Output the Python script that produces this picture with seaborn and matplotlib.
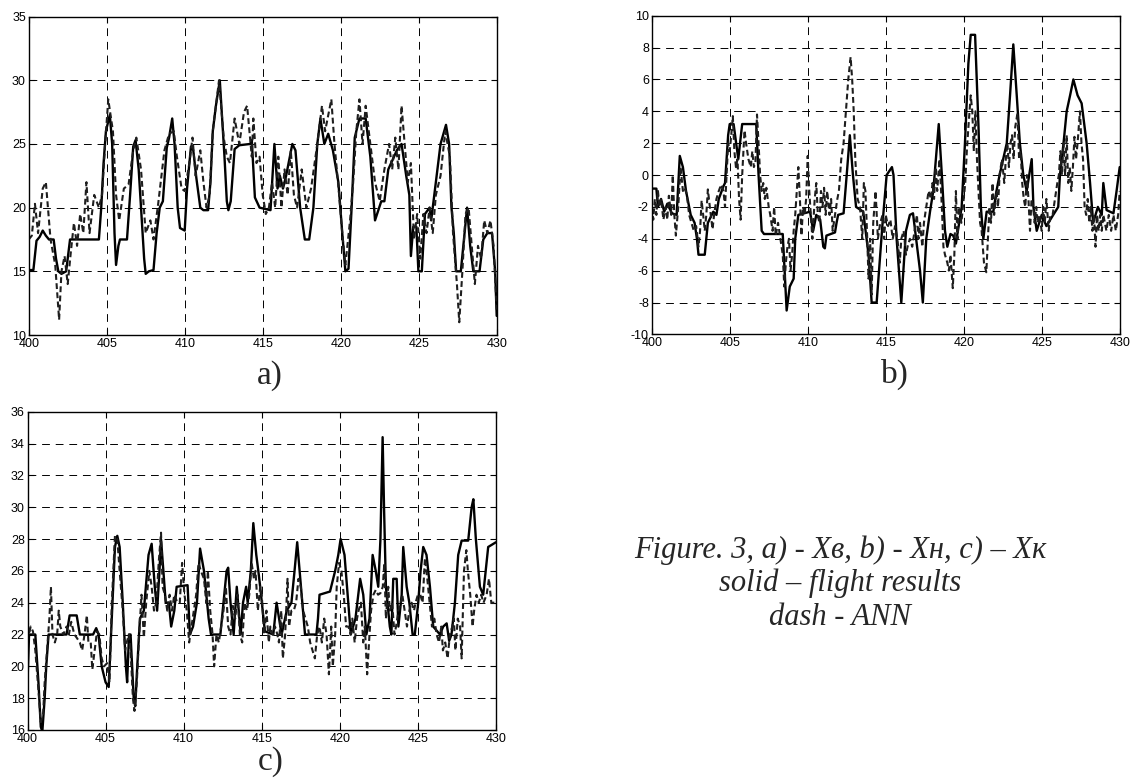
import numpy as np
import pandas as pd
import matplotlib
matplotlib.use('Agg')
import matplotlib.pyplot as plt
import seaborn as sns

# --- data (time axis 400..430) ---
# panel a) - Xв
a_solid_x = [400.0, 400.3, 400.5, 400.7, 400.9, 401.1, 401.3, 401.6, 401.75, 401.9, 402.1, 402.4, 402.55, 402.65,
             404.5, 404.65, 404.8, 404.95, 405.2, 405.35, 405.5, 405.6, 405.75, 405.85, 406.3, 406.5, 406.7, 406.85,
             407.05, 407.2, 407.4, 407.5, 407.7, 408.0, 408.2, 408.4, 408.6, 408.85, 409.0, 409.2, 409.35, 409.55,
             409.7, 410.0, 410.15, 410.4, 410.55, 410.75, 411.0, 411.2, 411.5, 411.65, 411.8, 412.0, 412.25, 412.4,
             412.55, 412.7, 412.8, 412.95, 413.2, 413.5, 414.2, 414.3, 414.5, 414.8, 415.5, 415.75, 415.95, 416.1,
             416.3, 416.5, 416.9, 417.1, 417.4, 417.7, 417.98, 418.25, 418.5, 418.7, 418.95, 419.2, 419.5, 419.85,
             420.1, 420.3, 420.5, 420.7, 420.9, 421.2, 421.6, 421.9, 422.2, 422.6, 422.8, 423.05, 423.6, 423.9,
             424.2, 424.4, 424.5, 424.65, 424.85, 424.98, 425.2, 425.4, 425.7, 425.8, 425.9, 426.1, 426.4, 426.75,
             426.95, 427.1, 427.25, 427.4, 427.7, 428.1, 428.3, 428.5, 428.9, 429.14, 429.4, 429.7, 429.9, 430.0]
a_solid_y = [15.1, 15.1, 17.4, 17.7, 18.2, 17.8, 17.5, 17.5, 16.0, 15.0, 14.8, 15.0, 16.5, 17.5,
             17.5, 20.0, 23.5, 26.0, 27.3, 25.0, 18.0, 15.5, 17.0, 17.5, 17.5, 21.0, 24.8, 25.3,
             23.0, 20.0, 16.0, 14.8, 15.0, 15.1, 18.0, 20.0, 20.5, 24.7, 25.5, 27.0, 25.0, 20.0,
             18.4, 18.2, 21.5, 24.8, 24.5, 22.3, 20.0, 19.8, 19.8, 22.0, 26.0, 28.0, 30.0, 27.0,
             24.0, 20.5, 19.8, 20.5, 24.6, 24.9, 25.0, 25.3, 20.8, 20.0, 19.8, 25.0, 21.5, 22.5,
             21.5, 22.5, 25.0, 24.5, 20.0, 17.5, 17.5, 20.0, 25.0, 27.0, 25.0, 25.8, 24.5, 22.0,
             18.0, 15.0, 15.2, 20.0, 25.5, 27.0, 27.0, 24.0, 19.0, 20.5, 20.5, 23.0, 24.5, 25.0,
             22.5, 21.0, 16.2, 18.5, 18.5, 15.0, 15.0, 19.5, 20.0, 19.0, 20.0, 22.0, 25.0, 26.5,
             25.0, 20.0, 18.0, 15.0, 15.0, 20.0, 17.0, 15.0, 15.0, 17.5, 18.0, 18.0, 15.0, 11.5]
a_dash_x = [400.0, 400.2, 400.4, 400.6, 400.9, 401.1, 401.4, 401.7, 401.95, 402.1, 402.3, 402.5, 402.7, 402.9,
            403.1, 403.3, 403.5, 403.7, 403.9, 404.2, 404.5, 404.7, 404.9, 405.1, 405.4, 405.6, 405.8, 406.1,
            406.4, 406.7, 406.9, 407.2, 407.5, 407.8, 408.0, 408.3, 408.7, 409.0, 409.3, 409.5, 409.8, 410.0,
            410.3, 410.5, 410.7, 411.0, 411.2, 411.4, 411.6, 411.8, 412.1, 412.2, 412.5, 412.7, 412.9, 413.2,
            413.5, 413.8, 414.0, 414.3, 414.4, 414.6, 414.8, 415.0, 415.2, 415.4, 415.6, 415.8, 416.0, 416.2,
            416.4, 416.6, 416.8, 417.0, 417.2, 417.5, 417.8, 418.1, 418.5, 418.8, 419.0, 419.4, 419.6, 419.9,
            420.1, 420.3, 420.6, 420.8, 421.0, 421.2, 421.4, 421.6, 421.9, 422.2, 422.5, 422.8, 423.1, 423.3,
            423.5, 423.7, 423.9, 424.1, 424.3, 424.5, 424.7, 424.9, 425.1, 425.3, 425.5, 425.7, 425.9, 426.1,
            426.4, 426.7, 427.0, 427.2, 427.45, 427.6, 427.8, 428.0, 428.2, 428.4, 428.6, 428.8, 429.0, 429.2,
            429.4, 429.6, 429.8, 430.0]
a_dash_y = [17.5, 17.8, 20.3, 18.0, 21.5, 22.0, 17.5, 15.5, 11.2, 15.0, 16.2, 14.0, 16.5, 18.8,
            17.0, 19.5, 18.0, 22.0, 18.0, 21.0, 20.0, 21.0, 25.0, 28.5, 26.0, 21.0, 19.0, 21.5,
            21.8, 24.5, 25.5, 23.0, 18.0, 19.0, 17.5, 20.3, 24.5, 25.8, 26.0, 24.0, 21.5, 21.3,
            23.5, 25.5, 22.5, 24.5, 22.0, 20.0, 21.0, 26.0, 29.0, 30.0, 25.5, 24.0, 23.5, 27.0,
            25.0, 27.5, 28.0, 24.0, 27.0, 23.5, 24.0, 21.0, 19.5, 20.0, 22.0, 20.0, 24.0, 20.0,
            23.0, 21.0, 24.5, 21.0, 20.0, 23.0, 20.0, 21.5, 25.0, 28.0, 26.0, 28.5, 25.0, 21.0,
            18.0, 15.5, 19.0, 22.0, 26.0, 28.5, 25.0, 28.0, 25.0, 22.0, 20.5, 23.0, 25.0, 23.0,
            25.5, 23.0, 28.0, 25.0, 22.0, 23.5, 17.5, 19.5, 16.0, 19.5, 18.0, 20.0, 18.0, 21.0,
            22.5, 26.0, 24.0, 18.0, 14.0, 11.0, 15.0, 19.5, 20.0, 17.0, 14.0, 17.0, 16.0, 19.0,
            18.0, 19.0, 17.0, 12.0]

# panel b) - Xн
b_solid_x = [400.0, 400.3, 400.4, 400.6, 400.8, 401.0, 401.3, 401.6, 401.8, 402.0, 402.2, 402.5, 402.75, 402.9,
             403.0, 403.4, 403.6, 403.95, 404.15, 404.3, 404.6, 404.7, 404.9, 405.0, 405.25, 405.55, 405.8, 406.7,
             406.85, 407.05, 407.2, 408.4, 408.65, 408.85, 409.1, 409.2, 409.4, 410.15, 410.35, 410.55, 410.8, 411.0,
             411.1, 411.2, 411.75, 411.85, 411.95, 412.3, 412.5, 412.7, 412.9, 413.1, 413.56, 413.9, 414.1, 414.42,
             414.8, 415.06, 415.4, 415.5, 415.7, 416.0, 416.3, 416.55, 416.75, 416.95, 417.2, 417.38, 417.6, 417.84,
             418.05, 418.4, 418.6, 418.8, 418.95, 419.15, 419.33, 419.5, 419.87, 420.08, 420.3, 420.45, 420.73, 420.95,
             421.1, 421.26, 421.47, 421.9, 422.1, 422.3, 422.76, 422.97, 423.18, 423.4, 423.6, 423.82, 424.04, 424.36,
             424.47, 424.68, 425.0, 425.3, 425.74, 426.06, 426.17, 426.4, 426.6, 426.82, 427.03, 427.3, 427.56, 427.88,
             428.1, 428.3, 428.6, 428.85, 428.95, 429.16, 429.6, 429.8, 430.0]
b_solid_y = [-0.85, -0.85, -2.0, -1.5, -2.3, -1.8, -2.4, -2.5, 1.2, 0.5, -1.0, -2.5, -3.0, -4.0,
             -5.0, -5.0, -3.0, -2.3, -2.5, -1.5, -0.7, -0.5, 2.5, 3.2, 3.2, 1.0, 3.2, 3.2,
             0.0, -3.5, -3.7, -3.7, -8.5, -7.0, -6.5, -4.0, -2.5, -2.3, -3.5, -2.5, -2.8, -4.5,
             -4.6, -3.8, -3.6, -3.0, -2.5, -2.4, 0.0, 2.5, 0.0, -2.0, -2.3, -5.0, -8.0, -8.0,
             -3.0, 0.0, 0.5, 0.0, -4.0, -8.0, -3.5, -2.5, -2.4, -4.0, -6.0, -8.0, -4.0, -2.3,
             -1.0, 3.2, 0.0, -3.5, -4.5, -3.7, -3.8, -4.3, -2.0, 2.0, 7.0, 8.8, 8.8, 3.0,
             -2.0, -4.0, -2.3, -2.3, -1.0, 0.0, 2.0, 5.0, 8.2, 5.0, 2.0, 0.0, -1.0, 1.0,
             -2.0, -3.5, -2.5, -3.2, -2.5, -2.0, 0.0, 2.0, 4.0, 5.0, 6.0, 5.0, 4.5, 2.0,
             -0.5, -3.0, -2.0, -2.5, -0.5, -2.2, -2.4, -1.0, 0.5]
b_dash_x = [400.0, 400.1, 400.2, 400.3, 400.4, 400.5, 400.6, 400.75, 400.9, 401.0, 401.1, 401.25, 401.35, 401.45,
            401.55, 401.7, 401.85, 402.0, 402.1, 402.25, 402.4, 402.55, 402.7, 402.85, 403.0, 403.1, 403.2, 403.3,
            403.4, 403.5, 403.6, 403.75, 403.9, 404.0, 404.15, 404.3, 404.45, 404.6, 404.7, 404.8, 404.9, 405.0,
            405.1, 405.2, 405.3, 405.4, 405.5, 405.6, 405.7, 405.8, 405.95, 406.05, 406.2, 406.35, 406.45, 406.55,
            406.65, 406.75, 406.85, 406.95, 407.05, 407.15, 407.25, 407.35, 407.5, 407.6, 407.75, 407.85, 407.95, 408.1,
            408.25, 408.4, 408.5, 408.6, 408.7, 408.8, 408.9, 409.0, 409.1, 409.2, 409.3, 409.4, 409.5, 409.6,
            409.7, 409.8, 409.9, 410.0, 410.1, 410.2, 410.3, 410.45, 410.55, 410.65, 410.75, 410.85, 410.95, 411.05,
            411.15, 411.25, 411.4, 411.5, 411.6, 411.75, 411.9, 412.0, 412.15, 412.3, 412.45, 412.6, 412.75, 412.85,
            412.95, 413.05, 413.2, 413.35, 413.5, 413.6, 413.7, 413.8, 413.9, 414.0, 414.1, 414.2, 414.35, 414.5,
            414.65, 414.8, 414.9, 415.0, 415.15, 415.3, 415.45, 415.6, 415.75, 415.9, 416.0, 416.15, 416.3, 416.4,
            416.55, 416.7, 416.85, 417.0, 417.1, 417.2, 417.35, 417.45, 417.6, 417.75, 417.9, 418.0, 418.1, 418.2,
            418.3, 418.45, 418.6, 418.7, 418.8, 418.95, 419.05, 419.15, 419.3, 419.4, 419.5, 419.6, 419.7, 419.85,
            419.95, 420.1, 420.2, 420.3, 420.45, 420.55, 420.65, 420.75, 420.85, 420.95, 421.05, 421.15, 421.3, 421.45,
            421.55, 421.65, 421.75, 421.85, 421.95, 422.1, 422.2, 422.3, 422.45, 422.6, 422.7, 422.8, 422.9, 423.0,
            423.1, 423.2, 423.3, 423.45, 423.55, 423.65, 423.75, 423.85, 423.95, 424.05, 424.15, 424.25, 424.35, 424.45,
            424.55, 424.65, 424.75, 424.85, 425.0, 425.1, 425.2, 425.3, 425.45, 425.55, 425.7, 425.85, 426.0, 426.1,
            426.2, 426.3, 426.4, 426.5, 426.6, 426.7, 426.8, 426.9, 427.0, 427.1, 427.2, 427.3, 427.45, 427.55,
            427.65, 427.75, 427.85, 427.95, 428.05, 428.15, 428.25, 428.35, 428.45, 428.55, 428.65, 428.75, 428.85, 428.95,
            429.05, 429.15, 429.3, 429.45, 429.6, 429.75, 429.9, 430.0]
b_dash_y = [-2.0, -2.8, -1.5, -2.5, -1.0, -2.0, -1.5, -2.8, -2.0, -2.8, -1.3, -2.5, 0.0, -2.5,
            -3.8, -2.0, 0.5, -1.0, -0.8, -1.2, -2.5, -3.0, -3.5, -3.2, -4.5, -3.5, -1.6, -2.5,
            -3.5, -2.5, -0.9, -2.2, -3.4, -2.5, -1.5, -1.0, -0.6, -1.0, -2.0, 0.0, 2.0, 1.5,
            2.5, 3.7, 1.5, 0.5, 1.0, -1.5, -2.8, 0.0, 2.8, 2.0, 1.0, 0.5, 1.5, 0.5,
            0.8, 3.8, 2.0, 0.0, -1.0, -0.5, -1.5, -0.8, -2.0, -2.5, -3.5, -2.0, -3.8, -3.0,
            -4.0, -5.0, -7.0, -5.5, -4.5, -4.0, -6.0, -5.0, -3.5, -2.5, -1.0, 0.5, -1.5, -3.8,
            -2.0, -2.5, -1.5, 1.2, -1.0, -2.5, -4.0, -1.5, -0.5, -2.5, -3.0, -1.0, -2.0, -0.8,
            -2.5, -1.0, -2.5, -1.5, -3.5, -2.5, -1.5, -1.0, 1.0, 2.0, 4.0, 6.0, 7.4, 6.0,
            4.0, 1.0, -1.5, -2.0, -4.0, -0.5, -1.0, -3.5, -6.5, -4.0, -7.5, -3.0, -1.0, -4.0,
            -3.0, -2.5, -4.0, -2.5, -3.2, -2.8, -4.0, -3.2, -4.0, -5.5, -4.0, -3.5, -5.0, -4.5,
            -4.0, -4.5, -3.5, -2.5, -4.0, -3.0, -4.5, -3.0, -2.0, -1.0, -1.5, -0.5, -1.5, 0.5,
            -1.0, 1.0, -2.0, -4.5, -5.0, -5.5, -6.0, -5.0, -7.1, -5.0, -1.0, -4.0, -2.0, -3.0,
            -2.0, -0.5, 1.5, 3.0, 5.0, 4.0, 1.5, 4.0, 1.0, -1.0, -3.0, -3.5, -5.5, -6.1,
            -4.0, -2.0, -3.0, -0.5, -2.5, -1.0, -2.0, 0.0, 1.0, -0.5, 1.0, 2.0, 0.5, 2.0,
            2.5, 1.0, 3.0, 3.9, 1.0, 1.5, -0.5, -1.5, -2.0, 0.0, -1.5, -3.5, -1.5, -2.0,
            -3.0, -2.0, -3.0, -2.5, -3.5, -2.0, -3.0, -1.5, -3.5, -2.5, -2.5, -1.5, -0.5, 0.0,
            1.5, 0.0, 2.0, 0.0, 2.5, -0.5, 0.5, -1.0, 0.5, 2.4, 1.0, 2.0, 4.0, 2.0,
            1.0, -2.0, -2.5, -1.5, -3.0, -2.0, -3.5, -2.5, -4.5, -2.5, -3.5, -2.5, -3.5, -2.5,
            -3.0, -3.5, -2.5, -3.5, -2.5, -3.5, -2.5, -1.0]

# panel c) - Xк
c_solid_x = [400.0, 400.1, 400.5, 400.7, 400.85, 400.95, 401.1, 401.2, 401.35, 402.5, 402.7, 403.15, 403.35, 404.2,
             404.4, 404.55, 404.75, 405.0, 405.2, 405.35, 405.6, 405.75, 405.9, 406.1, 406.3, 406.38, 406.5, 406.6,
             406.8, 406.9, 407.0, 407.2, 407.45, 407.75, 407.95, 408.15, 408.3, 408.45, 408.55, 408.7, 408.85, 409.05,
             409.2, 409.4, 409.55, 410.25, 410.4, 410.6, 410.85, 411.05, 411.3, 411.6, 411.75, 412.35, 412.55, 412.75,
             412.85, 413.0, 413.2, 413.4, 413.65, 413.8, 414.0, 414.1, 414.3, 414.46, 414.65, 414.78, 414.9, 415.2,
             415.74, 415.95, 416.27, 416.6, 416.9, 417.1, 417.27, 417.47, 417.6, 417.77, 418.5, 418.6, 418.7, 419.37,
             419.7, 419.9, 420.05, 420.3, 420.54, 420.7, 421.0, 421.3, 421.5, 421.7, 421.9, 422.1, 422.3, 422.46,
             422.6, 422.74, 422.83, 422.95, 423.2, 423.3, 423.42, 423.64, 423.75, 423.96, 424.06, 424.28, 424.45, 424.66,
             424.8, 425.02, 425.17, 425.34, 425.55, 425.77, 425.98, 426.41, 426.62, 426.84, 427.0, 427.15, 427.37, 427.58,
             427.8, 428.22, 428.44, 428.55, 428.71, 428.97, 429.18, 429.5, 430.0]
c_solid_y = [19.0, 22.0, 22.0, 19.0, 16.2, 15.9, 18.0, 20.0, 22.0, 22.0, 23.2, 23.2, 22.0, 22.0,
             22.4, 22.0, 20.0, 19.0, 18.7, 22.0, 27.5, 28.2, 27.5, 24.0, 20.0, 19.0, 22.0, 22.0,
             18.0, 17.5, 19.5, 23.0, 23.5, 27.0, 27.7, 25.0, 23.5, 26.0, 28.0, 26.0, 24.0, 24.0,
             22.5, 23.5, 25.0, 25.1, 22.0, 22.5, 24.0, 27.4, 26.0, 23.0, 22.0, 22.0, 24.0, 26.0,
             26.2, 24.0, 22.0, 25.0, 22.0, 24.0, 25.0, 24.0, 26.0, 29.0, 27.0, 26.0, 25.0, 22.2,
             22.0, 24.0, 22.0, 23.5, 24.0, 26.0, 27.8, 25.5, 24.0, 22.0, 22.0, 23.0, 24.5, 24.7,
             26.0, 27.0, 28.0, 27.0, 24.0, 22.0, 23.0, 25.5, 24.5, 22.0, 23.0, 27.0, 26.0, 25.0,
             28.0, 34.4, 30.0, 25.0, 22.5, 22.0, 25.5, 25.5, 22.5, 24.5, 27.5, 25.0, 24.0, 22.0,
             22.0, 24.0, 26.0, 27.5, 27.0, 25.0, 22.5, 22.0, 22.5, 22.7, 21.6, 22.0, 24.0, 27.0,
             27.9, 27.9, 30.0, 30.5, 28.0, 25.0, 24.5, 27.5, 27.8]
c_dash_x = [400.0, 400.1, 400.2, 400.35, 400.5, 400.7, 400.85, 401.0, 401.1, 401.25, 401.4, 401.5, 401.6, 401.75,
            401.9, 402.0, 402.1, 402.3, 402.5, 402.65, 402.8, 403.0, 403.15, 403.35, 403.5, 403.65, 403.8, 403.9,
            404.05, 404.15, 404.3, 404.45, 404.6, 404.75, 404.9, 405.1, 405.25, 405.4, 405.6, 405.75, 405.9, 406.1,
            406.25, 406.35, 406.5, 406.6, 406.75, 406.85, 407.0, 407.15, 407.3, 407.45, 407.6, 407.8, 407.95, 408.1,
            408.25, 408.4, 408.55, 408.65, 408.8, 408.95, 409.1, 409.25, 409.4, 409.6, 409.75, 409.9, 410.05, 410.2,
            410.35, 410.5, 410.65, 410.8, 410.95, 411.1, 411.3, 411.45, 411.55, 411.7, 411.85, 411.95, 412.1, 412.25,
            412.4, 412.55, 412.7, 412.85, 413.0, 413.15, 413.3, 413.45, 413.6, 413.75, 413.9, 414.05, 414.2, 414.35,
            414.5, 414.6, 414.75, 414.9, 415.0, 415.15, 415.3, 415.45, 415.55, 415.7, 415.85, 416.0, 416.1, 416.25,
            416.35, 416.5, 416.65, 416.75, 416.9, 417.05, 417.2, 417.35, 417.5, 417.65, 417.8, 417.95, 418.1, 418.25,
            418.4, 418.55, 418.7, 418.85, 419.0, 419.15, 419.3, 419.45, 419.55, 419.7, 419.8, 419.95, 420.1, 420.25,
            420.4, 420.55, 420.7, 420.8, 420.95, 421.1, 421.2, 421.35, 421.5, 421.6, 421.75, 421.9, 422.0, 422.15,
            422.3, 422.45, 422.6, 422.75, 422.85, 422.95, 423.1, 423.2, 423.35, 423.5, 423.6, 423.75, 423.9, 424.0,
            424.15, 424.3, 424.45, 424.6, 424.75, 424.85, 425.0, 425.15, 425.3, 425.45, 425.6, 425.75, 425.9, 426.05,
            426.2, 426.35, 426.5, 426.6, 426.75, 426.9, 427.05, 427.2, 427.3, 427.4, 427.55, 427.7, 427.8, 427.95,
            428.1, 428.2, 428.35, 428.5, 428.6, 428.75, 428.9, 429.05, 429.2, 429.4, 429.55, 429.7, 429.85, 430.0]
c_dash_y = [23.0, 22.0, 22.5, 22.2, 21.0, 18.5, 16.5, 17.0, 19.0, 21.0, 23.0, 25.0, 22.0, 21.5,
            22.0, 23.5, 22.5, 22.0, 22.5, 22.0, 22.8, 22.0, 21.8, 21.5, 21.0, 22.0, 23.2, 21.5,
            21.5, 19.8, 21.0, 22.2, 22.0, 20.5, 20.0, 20.2, 19.0, 24.0, 28.2, 28.0, 26.0, 23.5,
            21.0, 21.5, 22.0, 21.0, 18.0, 17.2, 19.0, 22.0, 24.5, 21.8, 24.0, 26.0, 25.0, 23.5,
            24.0, 26.5, 28.4, 25.0, 24.5, 23.5, 24.5, 23.5, 24.5, 24.0, 24.0, 26.5, 24.5, 23.5,
            21.5, 22.5, 23.5, 24.5, 26.5, 26.0, 25.5, 24.0, 26.0, 23.5, 22.0, 20.0, 22.0, 21.5,
            22.5, 23.5, 25.0, 22.5, 22.0, 23.8, 23.0, 24.5, 22.0, 21.5, 24.0, 23.5, 24.5, 26.5,
            25.5, 26.0, 23.5, 25.0, 24.5, 22.0, 23.5, 21.5, 22.5, 22.0, 22.5, 22.0, 21.5, 23.5,
            20.5, 22.0, 25.5, 22.5, 23.5, 23.5, 24.0, 25.5, 25.0, 23.5, 23.0, 22.5, 21.5, 21.0,
            20.5, 22.0, 22.5, 21.5, 23.0, 22.0, 19.5, 22.5, 20.0, 22.0, 25.0, 26.5, 26.0, 24.5,
            22.5, 22.5, 22.0, 23.0, 21.5, 23.0, 23.5, 24.0, 21.5, 22.5, 19.5, 22.0, 23.5, 24.5,
            24.8, 24.5, 24.6, 25.0, 26.5, 23.0, 25.0, 23.5, 24.0, 22.0, 22.5, 23.5, 24.0, 24.5,
            23.5, 22.5, 23.5, 24.0, 23.5, 24.0, 24.5, 24.5, 24.0, 26.8, 25.5, 24.0, 22.5, 23.0,
            22.0, 21.5, 22.5, 21.0, 21.5, 20.5, 22.0, 22.5, 23.0, 21.0, 23.0, 22.5, 20.5, 26.0,
            27.3, 26.0, 24.5, 22.5, 23.5, 24.5, 24.0, 24.5, 24.0, 24.5, 25.5, 24.0, 24.0, 24.0]

x_ticks = [400, 405, 410, 415, 420, 425, 430]
a_yticks = [10, 15, 20, 25, 30, 35]
b_yticks = [-10, -8, -6, -4, -2, 0, 2, 4, 6, 8, 10]
c_yticks = [16, 18, 20, 22, 24, 26, 28, 30, 32, 34, 36]

caption_lines = ['Figure. 3, a) - X\u0432, b) - X\u043d, c) \u2013 X\u043a',
                 'solid \u2013 flight results',
                 'dash - ANN']

# --- styling ---
sns.set_style('ticks')
plt.rcParams['font.family'] = ['Liberation Sans', 'DejaVu Sans']
plt.rcParams['axes.unicode_minus'] = False

fig = plt.figure(figsize=(11.41, 7.78), dpi=100)
fig.patch.set_facecolor('white')

W, H = 1141.0, 778.0


def make_ax(left, top, right, bottom):
    return fig.add_axes([left / W, 1 - bottom / H, (right - left) / W, (bottom - top) / H])


def draw_panel(ax, sx, sy, dx, dy, yticks):
    sns.lineplot(x=sx, y=sy, ax=ax, color='black', lw=1.7, sort=False, estimator=None)
    sns.lineplot(x=dx, y=dy, ax=ax, color='#1e1e1e', lw=1.5, sort=False, estimator=None)
    ax.lines[-1].set_dashes([2.8, 1.6])
    ax.set_xlim(400, 430)
    ax.set_ylim(yticks[0], yticks[-1])
    ax.set_xticks(x_ticks)
    ax.set_yticks(yticks)
    ax.set_xlabel('')
    ax.set_ylabel('')
    ax.grid(True, color='black', lw=0.7, linestyle=(0, (8, 6)))
    ax.tick_params(direction='in', length=4, width=0.8, top=True, right=True,
                   labelsize=9, pad=2, colors='black')
    for sp in ax.spines.values():
        sp.set_visible(True)
        sp.set_color('black')
        sp.set_linewidth(1.0)


ax_a = make_ax(28.7, 16.6, 496.7, 335.0)
draw_panel(ax_a, a_solid_x, a_solid_y, a_dash_x, a_dash_y, a_yticks)

ax_b = make_ax(651.7, 15.7, 1119.7, 334.4)
draw_panel(ax_b, b_solid_x, b_solid_y, b_dash_x, b_dash_y, b_yticks)

ax_c = make_ax(27.5, 411.7, 496.0, 730.0)
draw_panel(ax_c, c_solid_x, c_solid_y, c_dash_x, c_dash_y, c_yticks)

serif = ['Liberation Serif', 'DejaVu Serif']
fig.text(270 / W, 1 - 376 / H, 'a)', ha='center', va='center', fontsize=24, family=serif)
fig.text(895 / W, 1 - 374 / H, 'b)', ha='center', va='center', fontsize=24, family=serif)
fig.text(271 / W, 1 - 762 / H, 'c)', ha='center', va='center', fontsize=24, family=serif)

for i, line in enumerate(caption_lines):
    fig.text(840 / W, 1 - (558 + 33.5 * i) / H, line, ha='center', va='baseline',
             fontsize=22, style='italic', family=serif)

fig.savefig('out.png', dpi=100, facecolor='white')
